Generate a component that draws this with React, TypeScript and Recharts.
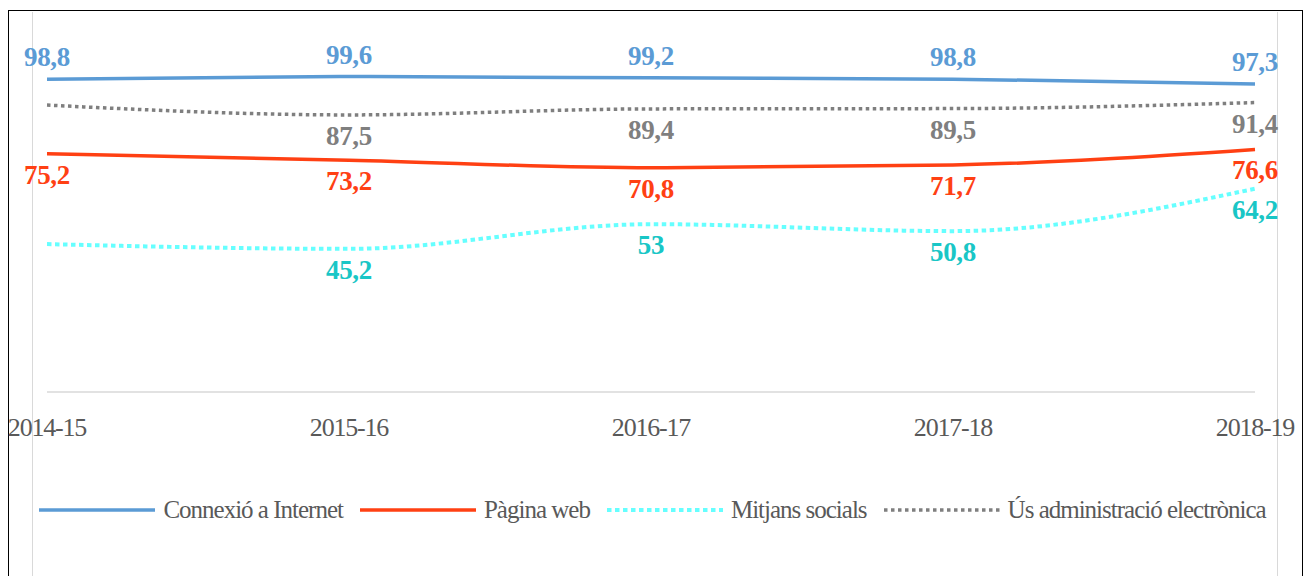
import React from 'react';
import { LineChart, Line, XAxis, YAxis, Legend, LabelList } from 'recharts';

const categories = ['2014-15', '2015-16', '2016-17', '2017-18', '2018-19'];
const connexio = [98.8, 99.6, 99.2, 98.8, 97.3];
const paginaWeb = [75.2, 73.2, 70.8, 71.7, 76.6];
const mitjansSocials = [46.7, 45.2, 53, 50.8, 64.2];
const administracio = [90.6, 87.5, 89.4, 89.5, 91.4];
const socialsLabelShown = [false, true, true, true, true];
const adminLabelShown = [false, true, true, true, true];

const data = categories.map((c, i) => ({
  cat: c,
  connexio: connexio[i],
  web: paginaWeb[i],
  socials: mitjansSocials[i],
  admin: administracio[i],
}));

const FONT = '"Liberation Serif", "Times New Roman", serif';

const fmt = (v: number) => String(v).replace('.', ',');

const makeLabel = (color: string, above: boolean, shown?: boolean[]) => (props: any) => {
  const { x, y, value, index } = props;
  if (shown && !shown[index]) return null;
  return (
    <text
      x={x}
      y={above ? y - 13 : y + 30}
      textAnchor="middle"
      fill={color}
      fontFamily={FONT}
      fontWeight="bold"
      fontSize={27}
      letterSpacing={-0.3}
    >
      {fmt(value)}
    </text>
  );
};

const Tick = (props: any) => {
  const { x, y, payload } = props;
  return (
    <text x={x} y={y} dy={36} textAnchor="middle" fill="#595959" fontFamily={FONT} fontSize={26} letterSpacing={-1.2}>
      {payload.value}
    </text>
  );
};

const legendItems = [
  { name: 'Connexió a Internet', color: '#5B9BD5', dash: undefined as string | undefined, w: 3.5 },
  { name: 'Pàgina web', color: '#FF4013', dash: undefined as string | undefined, w: 3.5 },
  { name: 'Mitjans socials', color: '#66FFFF', dash: '4.5 3.5', w: 4 },
  { name: 'Ús administració electrònica', color: '#7F7F7F', dash: '3.5 3.5', w: 3.5 },
];

const LegendContent = () => (
  <div style={{ display: 'flex', justifyContent: 'center', alignItems: 'center', fontFamily: FONT, fontSize: 25, letterSpacing: -1, color: '#595959', width: 1305 }}>
    {legendItems.map((it, i) => (
      <div key={i} style={{ display: 'flex', alignItems: 'center', marginRight: i < 3 ? 17 : 0 }}>
        <svg width={116} height={10} style={{ marginRight: 8 }}>
          <line x1={0} y1={5} x2={116} y2={5} stroke={it.color} strokeWidth={it.w} strokeDasharray={it.dash} />
        </svg>
        <span>{it.name}</span>
      </div>
    ))}
  </div>
);

export default function App() {
  return (
    <div style={{ position: 'absolute', left: 0, top: 0, width: 1305, height: 576, overflow: 'hidden', background: '#fff' }}>
      <div style={{ position: 'absolute', left: 8, top: 10, width: 1293, height: 570, borderLeft: '1px solid #000', borderTop: '1px solid #000', borderRight: '1px solid #000' }} />
      <div style={{ position: 'absolute', left: 32, top: 12, width: 1, height: 570, background: '#D9D9D9' }} />
      <div style={{ position: 'absolute', left: 1277, top: 12, width: 1, height: 570, background: '#D9D9D9' }} />
      <div style={{ position: 'absolute', left: 0, top: 0 }}>
        <LineChart width={1305} height={576} data={data} margin={{ top: 12, right: 50, left: 47, bottom: 144 }}>
          <XAxis dataKey="cat" height={40} tickLine={false} axisLine={{ stroke: '#D9D9D9', strokeWidth: 1.5 }} tick={<Tick />} interval={0} />
          <YAxis hide domain={[0, 120]} />
          <Legend
            layout="horizontal"
            verticalAlign="middle"
            align="center"
            content={<LegendContent />}
            wrapperStyle={{ top: 496, left: 0, width: 1305 }}
          />
          <Line type="monotone" dataKey="connexio" name="Connexió a Internet" stroke="#5B9BD5" strokeWidth={3.5} dot={false} isAnimationActive={false}>
            <LabelList dataKey="connexio" content={makeLabel('#5B9BD5', true)} />
          </Line>
          <Line type="monotone" dataKey="web" name="Pàgina web" stroke="#FF4013" strokeWidth={3.5} dot={false} isAnimationActive={false}>
            <LabelList dataKey="web" content={makeLabel('#FF4013', false)} />
          </Line>
          <Line type="monotone" dataKey="socials" name="Mitjans socials" stroke="#66FFFF" strokeWidth={4} strokeDasharray="4.5 3.5" dot={false} isAnimationActive={false}>
            <LabelList dataKey="socials" content={makeLabel('#19C6C6', false, socialsLabelShown)} />
          </Line>
          <Line type="monotone" dataKey="admin" name="Ús administració electrònica" stroke="#7F7F7F" strokeWidth={3.5} strokeDasharray="3.5 3.5" dot={false} isAnimationActive={false}>
            <LabelList dataKey="admin" content={makeLabel('#7F7F7F', false, adminLabelShown)} />
          </Line>
        </LineChart>
      </div>
    </div>
  );
}
